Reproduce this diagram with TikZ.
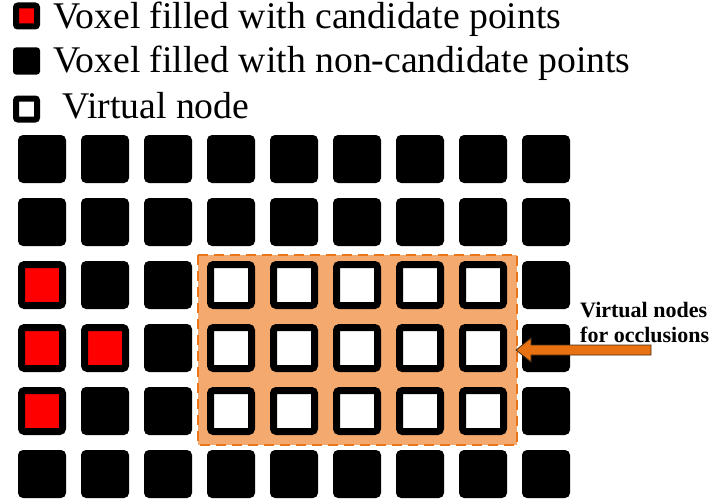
\documentclass[tikz,border=0pt]{standalone}
\usepackage{fontspec}
\setmainfont{Liberation Serif}
\usetikzlibrary{calc}
\definecolor{occfill}{RGB}{244,170,110}
\definecolor{occline}{RGB}{234,118,28}
\definecolor{arrfill}{RGB}{232,114,18}
\definecolor{arrline}{RGB}{70,45,20}
\begin{document}
\begin{tikzpicture}[x=1pt,y=-1pt,
  voxel/.style={fill=black,draw=none,rounded corners=5pt,minimum size=48pt,inner sep=0pt},
  candvox/.style={fill=red,draw=black,line width=7pt,rounded corners=3pt,minimum size=41pt,inner sep=0pt},
  virtvox/.style={fill=white,draw=black,line width=7pt,rounded corners=3pt,minimum size=41pt,inner sep=0pt},
  legvox/.style={fill=black,draw=none,rounded corners=3pt,minimum size=27pt,inner sep=0pt},
  legcand/.style={fill=red,draw=black,line width=6pt,rounded corners=2pt,minimum size=21pt,inner sep=0pt},
  legvirt/.style={fill=white,draw=black,line width=6pt,rounded corners=2pt,minimum size=21pt,inner sep=0pt},
  legtext/.style={anchor=base west,inner sep=0pt,font=\fontsize{37.7}{40}\selectfont},
  occregion/.style={fill=occfill,draw=occline,line width=2pt,dash pattern=on 10pt off 6pt},
  callout/.style={anchor=base west,inner sep=0pt,align=left,font=\bfseries\fontsize{22}{25}\selectfont},
  blockarrow/.style={fill=arrfill,draw=arrline,line width=0.8pt,line join=miter}
]
\useasboundingbox (0,0) rectangle (711,503);

% legend
\node[legcand] (lc) at (26.5,16) {};
\node[legtext] (lct) at (53,29) {Voxel filled with candidate points};
\node[legvox] (lv) at (26.5,61) {};
\node[legtext] (lvt) at (53,72.5) {Voxel filled with non-candidate points};
\node[legvirt] (lw) at (26.5,109) {};
\node[legtext] (lwt) at (62,118.5) {Virtual node};

% region of virtual nodes standing in for occluded voxels
\path[occregion] (198,255) rectangle (517,445);

% voxel grid: 9 columns, 6 rows
\foreach \r in {1,...,6}{
  \foreach \c in {1,...,9}{
    \pgfmathsetmacro{\px}{42+63*(\c-1)}
    \pgfmathsetmacro{\py}{159+63*(\r-1)}
    \pgfmathtruncatemacro{\isvirt}{(\r>=3)&&(\r<=5)&&(\c>=4)&&(\c<=8)}
    \pgfmathtruncatemacro{\iscand}{((\r==3)&&(\c==1))||((\r==4)&&(\c<=2))||((\r==5)&&(\c==1))}
    \ifnum\isvirt=1
      \node[virtvox] (v-\r-\c) at (\px,\py) {};
    \else\ifnum\iscand=1
      \node[candvox] (v-\r-\c) at (\px,\py) {};
    \else
      \node[voxel] (v-\r-\c) at (\px,\py) {};
    \fi\fi
  }
}

% callout (base anchor sits on the last line)
\node[callout] (lbl) at (580,342) {Virtual nodes\\for occlusions};
\coordinate (tail) at (651,350);
\coordinate (tip) at (516,350);
\draw[blockarrow] (tip) -- ($(tip)+(15,-12)$) -- ($(tip)+(15,-5)$) -- ($(tail)+(0,-5)$)
  -- ($(tail)+(0,5)$) -- ($(tip)+(15,5)$) -- ($(tip)+(15,12)$) -- cycle;
\end{tikzpicture}
\end{document}
